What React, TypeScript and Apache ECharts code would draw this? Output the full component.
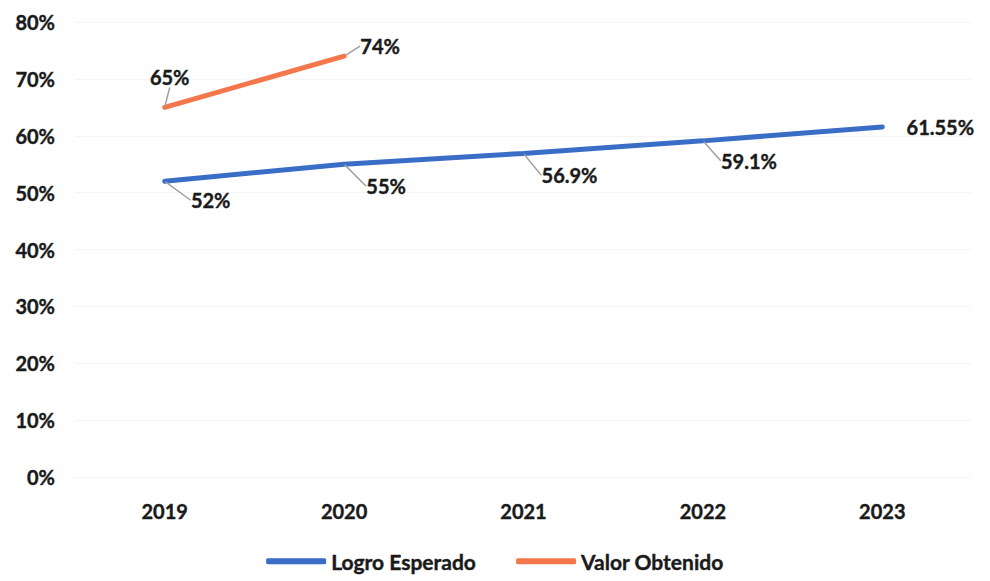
import React, { useEffect, useRef } from "react";
import * as echarts from "echarts";

const years = ["2019", "2020", "2021", "2022", "2023"];
const logroEsperado = [52, 55, 56.9, 59.1, 61.55];
const valorObtenido: (number | null)[] = [65, 74, null, null, null];
const yTicks = [0, 10, 20, 30, 40, 50, 60, 70, 80];

const blueOffsets = [
  [46, 19],
  [42, 22],
  [46, 22],
  [46, 20],
  [58, 0],
];
const orangeOffsets = [
  [5, -30],
  [36, -10],
];

const FONT = "Lato, 'Open Sans', sans-serif";
const textStyle = {
  fontFamily: FONT,
  fontWeight: "bold" as const,
  fontSize: 20,
  color: "#1a1a1a",
  textBorderColor: "#1a1a1a",
  textBorderWidth: 0.4,
};

export default function App() {
  const ref = useRef<HTMLDivElement>(null);
  useEffect(() => {
    if (!ref.current) return;
    const chart = echarts.init(ref.current, undefined, { renderer: "svg" });
    chart.setOption({
      animation: false,
      backgroundColor: "#ffffff",
      grid: { left: 75, right: 18, top: 22, bottom: 104, containLabel: false },
      legend: {
        bottom: 4,
        left: "center",
        itemWidth: 60,
        itemHeight: 6,
        itemGap: 40,
        icon: "roundRect",
        textStyle: { ...textStyle, fontSize: 21 },
        data: ["Logro Esperado", "Valor Obtenido"],
      },
      xAxis: {
        type: "category",
        data: years,
        axisLine: { show: false },
        axisTick: { show: false },
        axisLabel: { margin: 24, ...textStyle },
      },
      yAxis: {
        type: "value",
        min: yTicks[0],
        max: yTicks[yTicks.length - 1],
        interval: 10,
        axisLine: { show: false },
        axisTick: { show: false },
        splitLine: { lineStyle: { color: "#f5f5f5", width: 1 } },
        axisLabel: {
          margin: 20,
          ...textStyle,
          formatter: (v: number) => `${v}%`,
        },
      },
      series: [
        {
          name: "Logro Esperado",
          type: "line",
          data: logroEsperado.map((v, i) =>
            i === logroEsperado.length - 1 ? { value: v, labelLine: { show: false } } : v
          ),
          color: "#3a6ec6",
          lineStyle: { width: 5, color: "#3a6ec6", cap: "round" },
          symbol: "circle",
          symbolSize: 2,
          showSymbol: true,
          label: {
            show: true,
            position: "inside",
            formatter: (p: any) => `${p.value}%`,
            ...textStyle,
          },
          labelLine: { show: true, lineStyle: { color: "#a0a0a0", width: 1.5 } },
          labelLayout: (p: any) => ({
            dx: blueOffsets[p.dataIndex][0],
            dy: blueOffsets[p.dataIndex][1],
          }),
        },
        {
          name: "Valor Obtenido",
          type: "line",
          data: valorObtenido,
          color: "#f4764b",
          lineStyle: { width: 5, color: "#f4764b", cap: "round" },
          symbol: "circle",
          symbolSize: 2,
          showSymbol: true,
          label: {
            show: true,
            position: "inside",
            formatter: (p: any) => `${p.value}%`,
            ...textStyle,
          },
          labelLine: { show: true, lineStyle: { color: "#a0a0a0", width: 1.5 } },
          labelLayout: (p: any) => ({
            dx: (orangeOffsets[p.dataIndex] || [0, 0])[0],
            dy: (orangeOffsets[p.dataIndex] || [0, 0])[1],
          }),
        },
      ],
    });
    return () => chart.dispose();
  }, []);
  return <div ref={ref} style={{ width: 990, height: 581, position: "absolute", left: 0, top: 0 }} />;
}
